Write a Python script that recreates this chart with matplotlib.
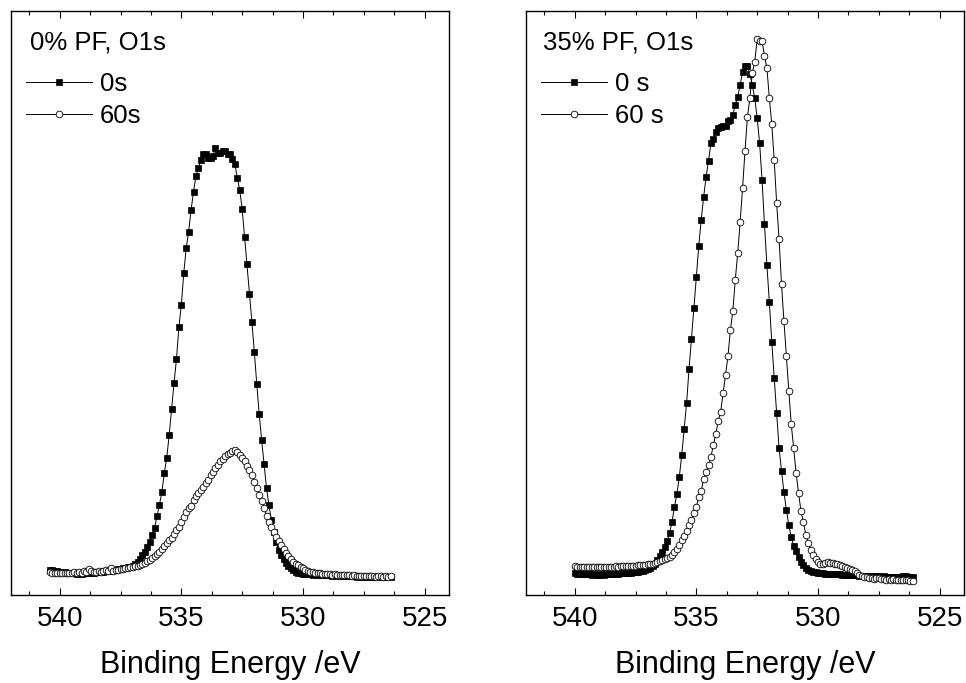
import numpy as np
import matplotlib
matplotlib.use("Agg")
import matplotlib.pyplot as plt
from matplotlib.ticker import MultipleLocator

plt.rcParams['font.family'] = ['Liberation Sans', 'DejaVu Sans']

# ---------------- data ----------------
# Binding energy grids (eV), 0.1 eV step
be_left = np.round(np.linspace(540.4, 526.4, 141), 1)
be_right = np.round(np.linspace(540.0, 526.1, 140), 1)

# Intensities (arbitrary units)
left_0s = [
    25.5, 25, 24.5, 24, 23.5, 23, 23, 22.5, 22.5, 22,
    22, 21.5, 21, 21.5, 22, 22, 22.5, 22, 22.5, 23,
    23, 23.5, 23.5, 24, 24, 24.5, 25, 25.5, 26, 26.5,
    27, 27.5, 28, 28.5, 29.5, 31, 33, 36.5, 40, 43.5,
    48, 53, 60, 67, 79, 90, 103, 122, 137, 160,
    186, 212, 236, 268, 290, 322, 347, 363, 385, 403,
    419, 427, 435, 441, 441, 437, 437, 439, 447, 442,
    442, 444, 444, 441, 441, 436, 431, 417, 405, 386,
    358, 331, 301, 273, 243, 211, 181, 155, 131, 107,
    90, 75, 63, 53, 45, 40, 36.5, 32, 29, 27,
    25, 23.5, 22.5, 22, 21.5, 21, 21.5, 21, 20.5, 21,
    20.5, 20.5, 20, 20.5, 20, 20, 19.5, 20, 19.5, 19.5,
    19, 19.5, 19, 19, 19.5, 19, 18.5, 19, 18.5, 18.5,
    18.5, 18, 18.5, 18, 18.5, 18, 18, 18.5, 18, 18,
    18.5,
]
left_60s = [
    23, 22.5, 22, 22, 22.5, 22, 22.5, 22, 22.5, 22,
    23, 22.5, 23, 22.5, 24, 23, 26.5, 24, 23, 23.5,
    24, 23, 24, 25, 24.5, 27, 24.5, 25, 25.5, 26,
    26.5, 27, 27.5, 28.3, 28.5, 29, 29.5, 30, 31, 32.5,
    34, 35.5, 37, 39, 41, 43, 46, 49, 52, 55,
    57, 61, 65, 68.5, 73, 78, 83, 87, 89.5, 95,
    99, 102, 105, 108, 112, 115, 120, 123, 127, 130,
    134, 136.5, 139, 141, 142.5, 144, 145, 143, 140, 137.5,
    134, 129, 125, 120, 113, 107, 100, 94, 87, 79,
    73, 68, 63, 58.5, 54, 50, 46, 42, 39, 36,
    33.5, 31.5, 30, 28.5, 27, 25.5, 24.5, 23.5, 23, 22.5,
    22, 22, 21.5, 21, 21.5, 21, 20.5, 21, 20.5, 20,
    20.5, 20, 20, 20.5, 19.5, 20, 19.5, 19, 19.5, 19,
    19.5, 19, 19, 19.5, 18.5, 19, 19, 18.5, 19, 18.5,
    19,
]
right_0s = [
    22, 21.5, 21.5, 21, 21.5, 21, 21, 20.5, 21, 20.5,
    20.5, 21, 20.5, 21, 21, 21, 21.5, 21.5, 21.5, 22,
    22, 22, 22.5, 22.5, 23, 23, 23.5, 24, 24.5, 25,
    26, 27, 29, 31, 35, 39, 43, 48, 54, 62,
    73, 88, 101, 118, 140, 166, 192, 226, 256, 287,
    318, 349, 375, 398, 418, 434, 452, 456, 463, 467,
    468, 469, 469, 474, 475, 480, 490, 498, 510, 523,
    529, 529, 521, 510, 497, 477, 452, 415, 371, 330,
    293, 253, 217, 182, 147, 124, 103, 85, 70, 58,
    49, 44, 38, 33, 30, 27, 25.5, 24.5, 23.5, 23,
    22.5, 22, 22, 21.5, 21.5, 21.5, 21, 21, 21.5, 21,
    20.5, 20.5, 20.5, 20, 20, 20, 20, 19.5, 19.5, 19.5,
    19.5, 19, 19, 19.5, 19, 19, 18.5, 19, 18.5, 18.5,
    18.5, 18, 18.5, 18, 18.5, 19, 19, 18.5, 18.5, 18,
]
right_60s = [
    29, 28.5, 28, 28.5, 28, 28.5, 28, 28, 28.5, 28,
    28.5, 28, 28, 28.5, 28.5, 28, 28.5, 29, 28.5, 29,
    29, 29.5, 29, 29.5, 29.5, 29.5, 30, 30, 30, 30.5,
    31, 31, 31.5, 32.5, 33.5, 34.3, 35, 36, 37, 38.5,
    40.5, 43.3, 46.5, 50.5, 55, 59.3, 64.3, 70, 75.5, 82,
    88, 98, 104, 116, 123, 130, 138, 150, 161, 174,
    183, 202, 220, 239, 265, 284, 315, 342, 373, 407,
    444, 478, 497, 522, 533, 556, 554, 554, 539, 527,
    497, 471, 435, 392, 356, 311, 274, 239, 204, 171,
    147, 122, 102, 84, 73, 60, 52, 45, 40, 36,
    33, 31, 31, 32, 33, 32.5, 32.3, 31.5, 31, 30,
    29, 28, 27, 26, 25, 24, 22, 20.5, 19.5, 18.5,
    18, 17, 17.5, 16.5, 17, 16.7, 16, 16.5, 15.5, 16,
    15.5, 16, 15.5, 15.5, 15, 15.5, 15, 15, 14.5, 14.3,
]

panel_titles = ["0% PF, O1s", "35% PF, O1s"]
labels_left = ["0s", "60s"]
labels_right = ["0 s", "60 s"]
xlabel = "Binding Energy /eV"
xticks = [540, 535, 530, 525]

# ---------------- figure ----------------
W, H = 966, 683
fig = plt.figure(figsize=(W / 100, H / 100), dpi=100)

def px_axes(l, t, r, b):
    return fig.add_axes([l / W, 1 - b / H, (r - l) / W, (b - t) / H])

ax1 = px_axes(11, 11, 449, 595)
ax2 = px_axes(526, 11, 964, 595)

panels = [
    (ax1, be_left, left_0s, left_60s, labels_left, panel_titles[0], 0.043, 0.0),
    (ax2, be_right, right_0s, right_60s, labels_right, panel_titles[1], 0.038, 0.0),
]

for ax, be, y0, y60, labs, title, tx, lx in panels:
    h0, = ax.plot(be, y0, color='black', lw=0.7, marker='s', ms=4.3,
                  mfc='black', mec='black', mew=0.5, label=labs[0], zorder=2)
    h1, = ax.plot(be, y60, color='black', lw=0.7, marker='o', ms=4.8,
                  mfc='white', mec='black', mew=0.6, label=labs[1], zorder=3)
    ax.set_xlim(542, 524)
    ax.set_ylim(0, 584)
    ax.set_xticks(xticks)
    ax.xaxis.set_minor_locator(MultipleLocator(1.25))
    ax.tick_params(axis='x', which='both', direction='in', top=True, bottom=True,
                   labelsize=20, pad=8, width=0.8)
    ax.tick_params(axis='x', which='major', length=5)
    ax.tick_params(axis='x', which='minor', length=3)
    ax.set_yticks([])
    for s in ax.spines.values():
        s.set_linewidth(1.0)
    ax.set_xlabel(xlabel, fontsize=22, labelpad=13)
    ax.text(tx, 0.967, title, transform=ax.transAxes, fontsize=18.5,
            ha='left', va='top')
    ax.legend(handles=[h0, h1], loc='upper left', bbox_to_anchor=(lx, 0.922),
              frameon=False, fontsize=18.5, handlelength=2.55, handletextpad=0.3,
              labelspacing=0.32, borderaxespad=0.3, borderpad=0.3)

fig.savefig("out.png", dpi=100)
